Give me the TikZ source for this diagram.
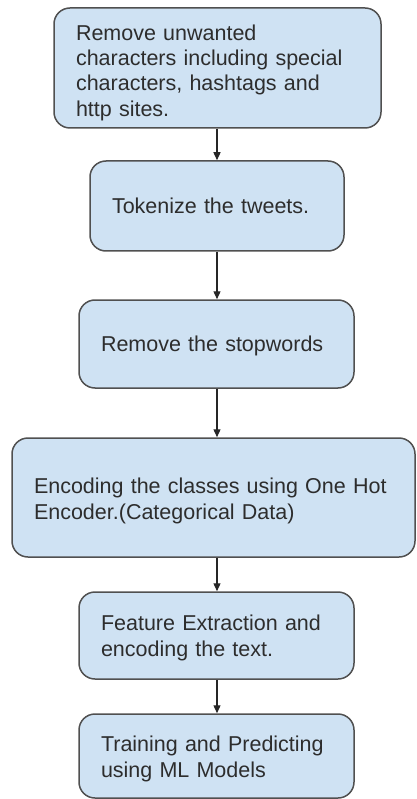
\documentclass[tikz,border=0pt]{standalone}
\usepackage{fontspec}
\setmainfont{Liberation Sans}
\usetikzlibrary{arrows.meta}
\definecolor{boxfill}{RGB}{207,226,243}
\definecolor{boxline}{RGB}{80,80,80}
\definecolor{txt}{RGB}{45,45,45}
\begin{document}
\begin{tikzpicture}[x=1pt,y=-1pt,
  stepbox/.style={draw=boxline,fill=boxfill,line width=1.5pt,rounded corners=16pt,inner sep=0pt},
  steptext/.style={inner sep=0pt,align=left,text=txt,
    font=\fontsize{21.5pt}{25.3pt}\selectfont},
  arr/.style={draw=black!85,line width=1.3pt,-{Triangle[length=8pt,width=7pt]}}]
\useasboundingbox (0,0) rectangle (416,799);
\fill[white] (0,0) rectangle (416,799);
\coordinate (ax) at (217,0);
\node[stepbox,minimum width=327pt,minimum height=120pt] (b1) at (217.5,68) {};
\node[steptext,text width=283pt] (t1) at ([yshift=-4.5pt]b1.center)
  {Remove unwanted\\characters including special\\characters, hashtags and\\http sites.};
\node[stepbox,minimum width=254pt,minimum height=90pt] (b2) at (217,206) {};
\node[steptext,text width=210pt] (t2) at (b2.center) {Tokenize the tweets.};
\node[stepbox,minimum width=275pt,minimum height=88pt] (b3) at (216.5,344) {};
\node[steptext,text width=231pt] (t3) at ([yshift=-2pt]b3.center) {Remove the stopwords};
\node[stepbox,minimum width=403pt,minimum height=119pt] (b4) at (213.5,497.5) {};
\node[steptext,text width=359pt] (t4) at ([yshift=-3.5pt]b4.center)
  {Encoding the classes using One Hot\\Encoder.(Categorical Data)};
\node[stepbox,minimum width=275pt,minimum height=87pt] (b5) at (216.5,635.5) {};
\node[steptext,text width=231pt] (t5) at ([yshift=-2.5pt]b5.center)
  {Feature Extraction and\\encoding the text.};
\node[stepbox,minimum width=275pt,minimum height=84pt] (b6) at (216.5,756) {};
\node[steptext,text width=231pt] (t6) at ([yshift=-3pt]b6.center)
  {Training and Predicting\\using ML Models};
\draw[arr] (b1.south -| ax) -- (b2.north -| ax);
\draw[arr] (b2.south -| ax) -- (b3.north -| ax);
\draw[arr] (b3.south -| ax) -- (b4.north -| ax);
\draw[arr] (b4.south -| ax) -- (b5.north -| ax);
\draw[arr] (b5.south -| ax) -- (b6.north -| ax);
\end{tikzpicture}
\end{document}
